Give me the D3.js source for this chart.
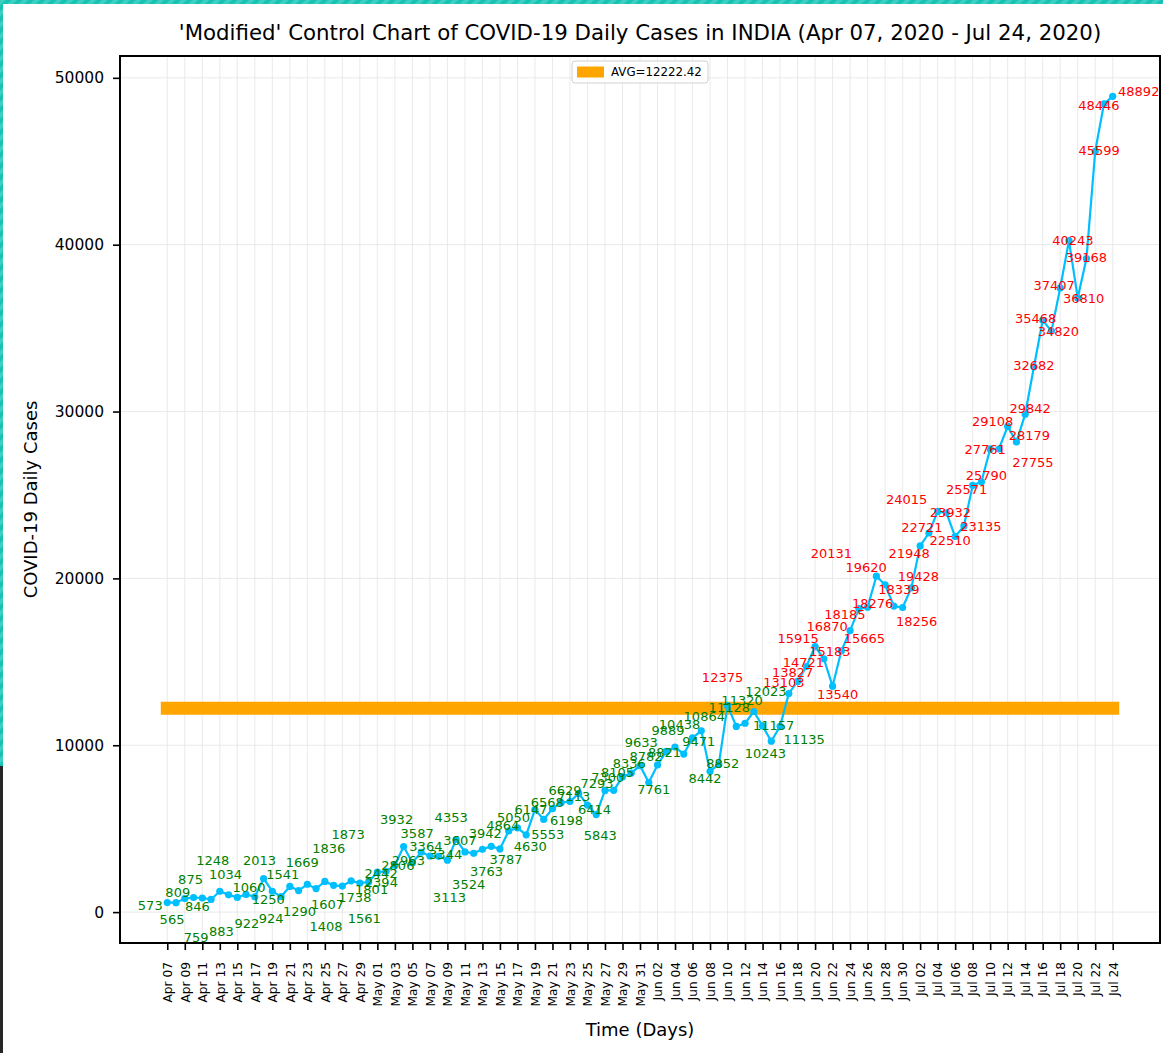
<!DOCTYPE html>
<html>
<head>
<meta charset="utf-8">
<script src="https://d3js.org/d3.v7.min.js"></script>
<style>
  body { margin: 0; background: #fff; }
  svg text { font-family: "DejaVu Sans", sans-serif; }
</style>
</head>
<body>
<div id="chart"></div>
<script>
// daily new cases, Apr 07 .. Jul 24 2020
const startDay = new Date(2020, 3, 7);
const endDay = new Date(2020, 6, 25);
const aprCases = [573, 565, 809, 875, 846, 759, 1248, 1034, 883, 1060, 922,
  2013, 1250, 924, 1541, 1290, 1669, 1408, 1836, 1607, 1561, 1873, 1738, 1801];
const mayCases = [2394, 2442, 2806, 3932, 2963, 3587, 3364, 3344, 3113, 4353, 3607, 3524, 3763, 3942, 3787, 4864,
  5050, 4630, 6147, 5553, 6198, 6568, 6629, 7113, 6414, 5843, 7293, 7300, 8105, 8336, 8782];
const junCases = [7761, 8821, 9633, 9889, 9471, 10438, 10864, 8442, 8852, 12375, 11128, 11320, 12023, 11157, 10243, 11135,
  13103, 13827, 14721, 15915, 15183, 13540, 15665, 16870, 18185, 18276, 20131, 19620, 18339, 18256];
const julCases = [19428, 21948, 22721, 24015, 23932, 22510, 23135, 25571, 25790, 27761, 27755, 29108, 28179, 29842,
  32682, 35468, 34820, 37407, 40243, 36810, 39168, 45599, 48446, 48892];
const yTicks = [0, 10000, 20000, 30000, 40000, 50000];

// where each annotation sits relative to its point (px)
const labelShift = [
  [-17,3],[-4,17],[-7,-6],[-3,-18],[-5,8],[-15,38],[-7,-31],[-3,-21],[-16,34],[3,-7],[-8,27],
  [-4,-18],[-4,8],[-10,22],[-7,-12],[1,21],[-5,-22],[10,38],[4,-33],[-6,19],[22,32],[-3,-47],[-5,14],[3,7],
  [4,10],[-5,2],[3,0],[-7,-27],[-4,-2],[-4,-19],[-4,-10],[7,-2],[2,37],[-5,-22],[-5,-12],[-5,31],[4,22],[-6,-13],[6,10],[-6,-6],
  [-4,-11],[4,11],[-4,0],[4,15],[14,12],[-14,0],[-5,-11],[-5,3],[7,4],[4,21],[-8,-7],[-6,-13],[-5,-5],[-2,-10],[6,-9],
  [5,7],[7,-13],[-25,-9],[-7,-17],[15,-13],[-13,-14],[3,-15],[-5,7],[4,-1],[-5,-28],[-7,-19],[-3,-23],[12,-20],[11,-1],[-6,12],[24,13],
  [-5,-11],[-5,-9],[-3,-4],[-17,-8],[6,-7],[5,8],[23,-12],[-23,-4],[-14,6],[5,-4],[-45,-23],[-19,-17],[5,-17],[14,14],
  [7,-12],[-11,7],[-7,-6],[-31,-12],[4,0],[-5,4],[17,0],[-6,4],[5,-6],[-5,0],[34,13],[-15,-5],[13,-7],[5,-6],
  [0,-1],[-7,-2],[7,0],[-6,-3],[4,0],[6,0],[0,-1],[4,-1],[-5,2],[26,-5]
];

const cases = aprCases.concat(mayCases, junCases, julCases);
const days = d3.timeDay.range(startDay, endDay);
const avg = d3.mean(cases);
const fmtDay = d3.timeFormat("%b %d");

const W = 1163, H = 1053;
const plotL = 120, plotR = 1160, plotT = 56, plotB = 943;

const svg = d3.select("#chart").append("svg")
    .attr("width", W)
    .attr("height", H);

// page frame stripes
const defs = svg.append("defs");
const pat = defs.append("pattern")
    .attr("id", "stripe")
    .attr("width", 8).attr("height", 8)
    .attr("patternUnits", "userSpaceOnUse")
    .attr("patternTransform", "rotate(45)");
pat.append("rect").attr("width", 8).attr("height", 8).attr("fill", "#17c1b3");
pat.append("rect").attr("width", 4).attr("height", 8).attr("fill", "#3ccfc2");
svg.append("rect").attr("x", 0).attr("y", 0).attr("width", W).attr("height", 4).attr("fill", "url(#stripe)");
svg.append("rect").attr("x", 0).attr("y", 0).attr("width", 3).attr("height", 766).attr("fill", "url(#stripe)");
svg.append("rect").attr("x", 0).attr("y", 766).attr("width", 3).attr("height", H - 766).attr("fill", "#262626");

const n = cases.length;
const x = d3.scaleLinear()
    .domain([-0.05 * (n - 1), (n - 1) * 1.05])
    .range([plotL, plotR]);
const lo = d3.min(cases), hi = d3.max(cases);
const y = d3.scaleLinear()
    .domain([lo - 0.05 * (hi - lo), hi + 0.05 * (hi - lo)])
    .range([plotB, plotT]);

const xTickIdx = d3.range(0, n, 2);

// grid
svg.append("g").selectAll("line")
  .data(xTickIdx)
  .join("line")
    .attr("x1", d => x(d)).attr("x2", d => x(d))
    .attr("y1", plotT).attr("y2", plotB)
    .attr("stroke", "#e5e5e5").attr("stroke-width", 0.8);
svg.append("g").selectAll("line")
  .data(yTicks)
  .join("line")
    .attr("x1", plotL).attr("x2", plotR)
    .attr("y1", d => y(d)).attr("y2", d => y(d))
    .attr("stroke", "#e5e5e5").attr("stroke-width", 0.8);

// average band
svg.append("line")
    .attr("x1", x(0)).attr("x2", x(n - 1))
    .attr("y1", y(avg)).attr("y2", y(avg))
    .attr("stroke", "orange")
    .attr("stroke-width", 13)
    .attr("stroke-linecap", "square");

// series
const line = d3.line().x((d, i) => x(i)).y(d => y(d));
svg.append("path")
    .datum(cases)
    .attr("d", line)
    .attr("fill", "none")
    .attr("stroke", "deepskyblue")
    .attr("stroke-width", 2.2);
svg.append("g").selectAll("circle")
  .data(cases)
  .join("circle")
    .attr("cx", (d, i) => x(i))
    .attr("cy", d => y(d))
    .attr("r", 3.6)
    .attr("fill", "deepskyblue");

// value labels
svg.append("g").selectAll("text")
  .data(cases)
  .join("text")
    .attr("x", (d, i) => x(i) + labelShift[i][0])
    .attr("y", (d, i) => y(d) + labelShift[i][1])
    .attr("dy", "0.36em")
    .attr("text-anchor", "middle")
    .attr("font-size", "13px")
    .attr("fill", d => d > avg ? "red" : "green")
    .text(d => d);

// axes
const xAxis = svg.append("g")
    .attr("transform", `translate(0,${plotB})`)
    .call(d3.axisBottom(x).tickValues(xTickIdx).tickFormat(i => fmtDay(days[i])).tickSizeOuter(0).tickSize(7));
xAxis.select(".domain").remove();
xAxis.selectAll(".tick line").attr("stroke", "#000").attr("stroke-width", 1.6);
xAxis.selectAll(".tick text")
    .attr("font-size", "12.2px")
    .attr("fill", "#000")
    .attr("text-anchor", "end")
    .attr("dy", "0.35em")
    .attr("transform", "rotate(-90)")
    .attr("x", -19)
    .attr("y", 0);

const yAxis = svg.append("g")
    .attr("transform", `translate(${plotL},0)`)
    .call(d3.axisLeft(y).tickValues(yTicks).tickFormat(d3.format("d")).tickSizeOuter(0).tickSize(7).tickPadding(9));
yAxis.select(".domain").remove();
yAxis.selectAll(".tick line").attr("stroke", "#000").attr("stroke-width", 1.6);
yAxis.selectAll(".tick text").attr("font-size", "15.5px").attr("fill", "#000");

// frame
svg.append("rect")
    .attr("x", plotL).attr("y", plotT)
    .attr("width", plotR - plotL).attr("height", plotB - plotT)
    .attr("fill", "none").attr("stroke", "#000").attr("stroke-width", 2);

// legend
const lg = svg.append("g").attr("transform", "translate(572,61)");
lg.append("rect")
    .attr("width", 136).attr("height", 22).attr("rx", 3)
    .attr("fill", "#fff").attr("fill-opacity", 0.85)
    .attr("stroke", "#d0d0d0");
lg.append("rect")
    .attr("x", 5).attr("y", 5.5).attr("width", 27).attr("height", 11)
    .attr("fill", "orange");
lg.append("text")
    .attr("x", 39).attr("y", 11).attr("dy", "0.36em")
    .attr("font-size", "11.8px")
    .text("AVG=" + avg.toFixed(2));

// titles
svg.append("text")
    .attr("x", 640).attr("y", 40)
    .attr("text-anchor", "middle")
    .attr("font-size", "21.3px")
    .text("'Modified' Control Chart of COVID-19 Daily Cases in INDIA (" + fmtDay(days[0]) + ", 2020 - " + fmtDay(days[n - 1]) + ", 2020)");
svg.append("text")
    .attr("x", (plotL + plotR) / 2).attr("y", 1036)
    .attr("text-anchor", "middle")
    .attr("font-size", "18px")
    .text("Time (Days)");
svg.append("text")
    .attr("transform", `translate(37,${(plotT + plotB) / 2}) rotate(-90)`)
    .attr("text-anchor", "middle")
    .attr("font-size", "18px")
    .text("COVID-19 Daily Cases");
</script>
</body>
</html>
